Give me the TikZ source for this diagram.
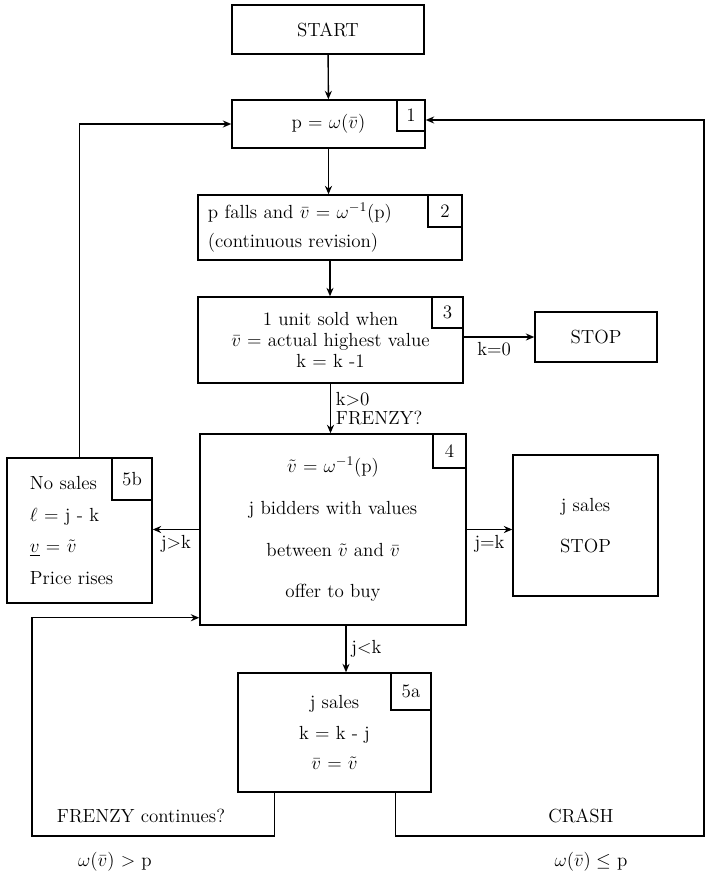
\RequirePackage{fix-cm}
\documentclass[tikz,border=0pt]{standalone}
\usepackage{fontspec}
\usepackage{amsmath}
\usetikzlibrary{arrows.meta, positioning}

\begin{document}
\begin{tikzpicture}[x=0.025cm, y=-0.025cm,
    box/.style={draw, line width=1pt, align=center, inner sep=2pt},
    num/.style={draw, line width=1pt, anchor=north east, minimum width=0.8cm, minimum height=0.8cm, inner sep=0pt},
    arr/.style={-{Stealth[length=6pt, width=5pt]}, line width=1pt},
    font=\fontsize{13.5pt}{16pt}\selectfont
  ]
  \useasboundingbox (0,0) rectangle (705,876);

  \node[box, minimum width=4.8cm, minimum height=1.225cm] (start) at (328,29.5) {START};
  \node[box, minimum width=4.825cm, minimum height=1.2cm] (b1) at (328.5,124) {p = $\omega(\bar{v})$};
  \node[num, minimum width=0.7cm, minimum height=0.775cm] (n1) at (b1.north east) {1};
  \node[box, text width=6.1cm, inner xsep=0.25cm, minimum height=1.625cm, align=left, font=\fontsize{13.5pt}{21pt}\selectfont] (b2) at (330,227.5) {p falls and $\bar{v}$ = $\omega^{-1}$(p)\\(continuous revision)};
  \node[num, minimum width=0.85cm] (n2) at (b2.north east) {2};
  \node[box, minimum width=6.625cm, minimum height=2.15cm, font=\fontsize{13.5pt}{15pt}\selectfont] (b3) at (330.5,340) {1 unit sold when\\$\bar{v}$ = actual highest value\\k = k -1};
  \node[num, minimum width=0.775cm, minimum height=0.775cm] (n3) at (b3.north east) {3};
  \node[box, minimum width=3.05cm, minimum height=1.25cm] (stop1) at (596,337) {STOP};
  \node[box, minimum width=6.65cm, minimum height=4.775cm, font=\fontsize{13.5pt}{29.6pt}\selectfont] (b4) at (333,529.5) {$\tilde{v}$ = $\omega^{-1}$(p)\\j bidders with values\\between $\tilde{v}$ and $\bar{v}$\\offer to buy};
  \node[num, minimum width=0.825cm, minimum height=0.85cm] (n4) at (b4.north east) {4};
  \node[box, text width=2.475cm, inner xsep=0.575cm, minimum height=3.625cm, align=left, font=\fontsize{13.5pt}{22.5pt}\selectfont] (b5b) at (79.5,530.5) {No sales\\$\ell$ = j - k\\$\underline{v}$ = $\tilde{v}$\\Price rises};
  \node[num, minimum width=1cm, minimum height=1.05cm] (n5b) at (b5b.north east) {5b};
  \node[box, minimum width=3.625cm, minimum height=3.525cm, font=\fontsize{13.5pt}{29pt}\selectfont] (stop2) at (585.5,525.5) {j sales\\STOP};
  \node[box, minimum width=4.825cm, minimum height=2.975cm, font=\fontsize{13.5pt}{21.6pt}\selectfont] (b5a) at (334.5,732.5) {j sales\\k = k - j\\$\bar{v}$ = $\tilde{v}$};
  \node[num, minimum width=1cm, minimum height=0.925cm] (n5a) at (b5a.north east) {5a};

  \node (frz) at (141,816) {FRENZY continues?};
  \node (crash) at (581,816) {CRASH};
  \node (cup) at (115,862) {$\omega(\bar{v})$ > p};
  \node (cdn) at (591,862) {$\omega(\bar{v}) \leq$ p};

  \coordinate (lc) at (32,836);
  \coordinate (rc) at (704,836);

  \draw[arr] (start) -- (b1);
  \draw[arr] (b1.south) -- (b1.south |- b2.north);
  \draw[arr] (b2.south) -- (b2.south |- b3.north);
  \draw[arr] (b3.south) -- (b3.south |- b4.north) node[midway, right, align=left, font=\fontsize{13.5pt}{14pt}\selectfont] (lk) {k>0\\FRENZY?};
  \draw[arr] (stop1.west -| b3.east) -- (stop1.west) node[pos=0.43, below] (lk0) {k=0};
  \draw[arr] (b4.east) -- (b4.east -| stop2.west) node[midway, below] (ljk) {j=k};
  \draw[arr] (b4.west) -- (b4.west -| b5b.east) node[midway, below] (lgt) {j>k};
  \draw[arr] ([xshift=0.325cm]b4.south) -- ([xshift=0.325cm]b4.south |- b5a.north) node[midway, right] (llt) {j<k};
  \draw[arr] (b5b.north) |- (b1.west);
  \draw[arr] ([xshift=0.925cm]b5a.south west) |- (lc) |- ([yshift=0.2cm]b4.south west);
  \draw[arr] ([xshift=-0.9cm]b5a.south east) |- (rc) |- ([yshift=0.1cm]b1.east);
\end{tikzpicture}
\end{document}
